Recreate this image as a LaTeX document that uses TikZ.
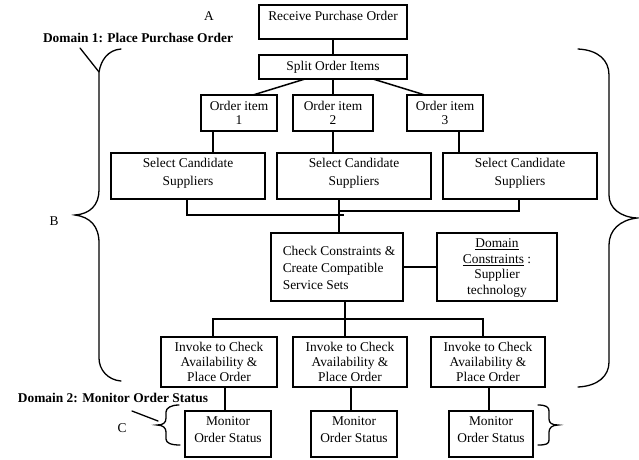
\documentclass[tikz,border=0pt]{standalone}
\usepackage{fontspec}
\setmainfont{Liberation Serif}
\usetikzlibrary{calc}
\newcommand\tx[3]{\raisebox{#1pt}[0pt][0pt]{\renewcommand\arraystretch{#2}\begin{tabular}[c]{@{}c@{}}#3\end{tabular}}}
\newcommand\txl[3]{\hspace*{4pt}\raisebox{#1pt}[0pt][0pt]{\renewcommand\arraystretch{#2}\begin{tabular}[c]{@{}l@{}}#3\end{tabular}}}
\tikzset{
 box/.style={draw=black,line width=1.5pt,fill=white,outer sep=0pt,inner sep=0pt,font=\fontsize{13.4}{12}\selectfont},
 link/.style={line width=1.5pt,line join=miter},
 brace/.style={line width=1.3pt,line cap=round},
 lab/.style={inner sep=0pt,font=\fontsize{13.4}{12}\selectfont},
 blab/.style={inner sep=0pt,font=\fontsize{13.4}{12}\selectfont\bfseries},
 wbox/.style n args={2}{box,minimum width=#1pt,minimum height=#2pt}
}
\begin{document}
\begin{tikzpicture}[x=1pt,y=-1pt]
\useasboundingbox (0,0) rectangle (639,459);
\fill[white] (0,0) rectangle (639,459);
% boxes
\node[wbox={148}{34}] (recv) at (333,22) {\tx{0.5}{1}{Receive Purchase Order}};
\node[wbox={148}{24}] (split) at (333,67) {\tx{-4.5}{1}{Split Order Items}};
\node[wbox={76}{36}] (item1) at (239,113) {\tx{-5.5}{1.15}{Order item\\1}};
\node[wbox={80}{36}] (item2) at (333,113) {\tx{-5.5}{1.15}{Order item\\2}};
\node[wbox={76}{36}] (item3) at (445,113) {\tx{-5.5}{1.15}{Order item\\3}};
\node[wbox={154}{46}] (sel1) at (188,176) {\tx{-0.5}{1.5}{Select Candidate\\Suppliers}};
\node[wbox={154}{46}] (sel2) at (354,176) {\tx{-0.5}{1.5}{Select Candidate\\Suppliers}};
\node[wbox={154}{46}] (sel3) at (520,176) {\tx{-0.5}{1.5}{Select Candidate\\Suppliers}};
\node[wbox={132}{68}] (check) at (337,267) {\txl{-5.5}{1.42}{Check Constraints \&\\Create Compatible\\Service Sets}};
\node[wbox={120}{68}] (dom) at (497,267) {\tx{-4.5}{1.29}{\underline{Domain}\\\underline{Constraints} :\\Supplier\\technology}};
\node[wbox={116}{50}] (inv1) at (219,362) {\tx{-5.5}{1.25}{Invoke to Check\\Availability \&\\Place Order}};
\node[wbox={114}{50}] (inv2) at (350,362) {\tx{-5.5}{1.25}{Invoke to Check\\Availability \&\\Place Order}};
\node[wbox={114}{50}] (inv3) at (488,362) {\tx{-5.5}{1.25}{Invoke to Check\\Availability \&\\Place Order}};
\node[wbox={86}{46}] (mon1) at (228,434) {\tx{0}{1.45}{Monitor\\Order Status}};
\node[wbox={86}{46}] (mon2) at (354,434) {\tx{0}{1.45}{Monitor\\Order Status}};
\node[wbox={84}{46}] (mon3) at (491,434) {\tx{0}{1.45}{Monitor\\Order Status}};
% labels
\node[lab] (la) at (209,16) {A};
\node[lab] (lb) at (54,221) {B};
\node[lab] (lc) at (122,428) {C};
\node[blab] (d1) at (138,38) {Domain 1: Place Purchase Order};
\node[blab] (d2) at (113,398) {Domain 2: Monitor Order Status};
% junction coordinates
\coordinate (j1) at (344,215);
\coordinate (j2) at (339,211);
\coordinate (bus) at (345,319);
% connectors
\draw[link] (recv) -- (split);
\draw[link] (split) -- (item2);
\draw[link] ([xshift=-28pt]split.south) -- ([xshift=14pt]item1.north);
\draw[link] ([xshift=40pt]split.south) -- ([xshift=-20pt]item3.north);
\draw[link] ([xshift=-26pt]item1.south) -- ([xshift=25pt]sel1.north);
\draw[link] (item2) -- ([xshift=-21pt]sel2.north);
\draw[link] ([xshift=14pt]item3.south) -- ([xshift=-61pt]sel3.north);
\draw[link] ([xshift=-1pt]sel1.south) |- (j1);
\draw[link] ([xshift=-1pt]sel3.south) |- (j2);
\draw[link] ([xshift=-15pt]sel2.south) -- ([xshift=2pt]check.north);
\draw[link] (check) -- (dom);
\draw[link] ([xshift=8pt]check.south) -- ([xshift=-5pt]inv2.north);
\draw[link] ([xshift=-6pt]inv1.north) |- (bus) -| ([xshift=-5pt]inv3.north);
\draw[link] ([xshift=6pt]inv1.south) -- ([xshift=-3pt]mon1.north);
\draw[link] ([xshift=1pt]inv2.south) -- ([xshift=-3pt]mon2.north);
\draw[link] ([xshift=1pt]inv3.south) -- ([xshift=-2pt]mon3.north);
% braces
\draw[brace] (121,49) .. controls (108,50) and (101,60) .. (99,72) -- (99,190) .. controls (99,205) and (90,214) .. (75,215) .. controls (90,217) and (99,226) .. (99,243) -- (99,358) .. controls (99,370) and (108,380) .. (121,381);
\draw[brace] (80,48) -- (99,72);
\draw[brace] (578,49) .. controls (598,50) and (609,60) .. (609,75) -- (609,195) .. controls (609,208) and (620,217) .. (637,218) .. controls (620,220) and (609,230) .. (609,245) -- (609,362) .. controls (609,376) and (598,386) .. (578,387);
\draw[brace] (179,405) .. controls (171,405) and (166,408) .. (166,412) -- (166,418) .. controls (166,423) and (163,425) .. (157,425) .. controls (163,425) and (166,428) .. (166,432) -- (166,439) .. controls (166,443) and (171,445) .. (180,445);
\draw[brace] (132,411) -- (158,421);
\draw[brace] (538,405) .. controls (546,405) and (549,407) .. (549,411) -- (549,419) .. controls (549,423) and (552,425) .. (558,425) .. controls (552,425) and (549,428) .. (549,432) -- (549,440) .. controls (549,444) and (546,445) .. (538,445);
\end{tikzpicture}
\end{document}
